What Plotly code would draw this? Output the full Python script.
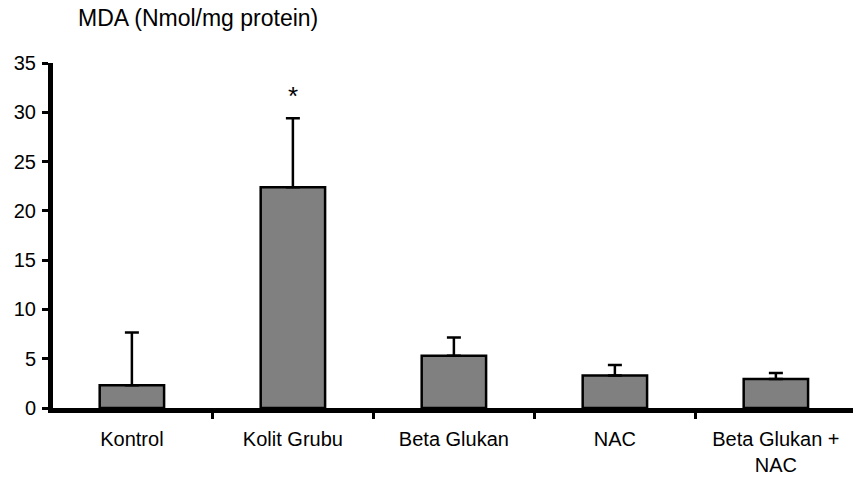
import plotly.graph_objects as go

categories = ["Kontrol", "Kolit Grubu", "Beta Glukan", "NAC", "Beta Glukan +<br>NAC"]
mda_mean = [2.3, 22.4, 5.3, 3.3, 2.95]
mda_err_plus = [5.35, 7.0, 1.85, 1.05, 0.6]
y_tick_vals = [0, 5, 10, 15, 20, 25, 30, 35]
title_text = "MDA (Nmol/mg protein)"
sig_marker = "*"
sig_group = "Kolit Grubu"

FONT = "Arial, Liberation Sans, sans-serif"

fig = go.Figure()
fig.add_trace(go.Bar(
    x=categories,
    y=mda_mean,
    width=0.4,
    marker=dict(color="#808080", line=dict(color="black", width=2.5)),
    error_y=dict(type="data", array=mda_err_plus, arrayminus=[0] * len(mda_mean),
                 symmetric=False, color="black", thickness=2.5, width=7),
    showlegend=False,
))

sig_idx = categories.index(sig_group)
fig.add_annotation(x=sig_group, y=mda_mean[sig_idx] + mda_err_plus[sig_idx],
                   text=sig_marker, showarrow=False, yshift=22,
                   font=dict(family=FONT, size=26, color="black"))

fig.add_annotation(xref="paper", yref="paper", x=0.029, y=1.0, yshift=45,
                   xanchor="left", yanchor="middle", text=title_text, showarrow=False,
                   font=dict(family=FONT, size=23, color="black"))

fig.update_layout(
    width=853, height=480,
    margin=dict(l=53, r=0, t=63, b=72),
    plot_bgcolor="white", paper_bgcolor="white",
    font=dict(family=FONT, size=20, color="black"),
)
fig.update_xaxes(
    type="category", range=[-0.49, 4.479],
    showline=True, linecolor="black", linewidth=5,
    ticks="outside", tickson="boundaries", ticklen=6, tickwidth=3, tickcolor="black",
    showgrid=False, zeroline=False,
    tickfont=dict(family=FONT, size=20, color="black"),
    ticklabelstandoff=9,
)
fig.update_yaxes(
    range=[0, 35], tickvals=y_tick_vals,
    showline=True, linecolor="black", linewidth=5,
    ticks="outside", ticklen=6, tickwidth=3, tickcolor="black",
    showgrid=False, zeroline=False,
    tickfont=dict(family=FONT, size=20, color="black"),
    ticklabelstandoff=2,
)

fig.write_html("out.html")
